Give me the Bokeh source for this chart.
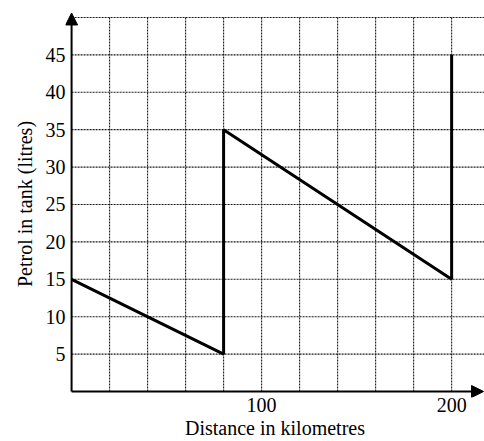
from bokeh.plotting import figure
from bokeh.models import Range1d, FixedTicker, Arrow, NormalHead
from bokeh.embed import file_html
from bokeh.resources import INLINE

# data
distance_km = [0, 80, 80, 200, 200]
petrol_litres = [15, 5, 35, 15, 45]

x_tick_labels = [100, 200]
y_tick_labels = [5, 10, 15, 20, 25, 30, 35, 40, 45]
x_grid_ticks = [20, 40, 60, 80, 100, 120, 140, 160, 180, 200]
y_grid_ticks = [5, 10, 15, 20, 25, 30, 35, 40, 45, 50]

X_MIN, X_MAX = -3.2, 217.3
Y_MIN, Y_MAX = -0.8, 50.93
X_ARROW = 216.8
Y_ARROW = 50.6

p = figure(width=484, height=441, x_range=Range1d(X_MIN, X_MAX), y_range=Range1d(Y_MIN, Y_MAX),
           output_backend="svg", toolbar_location=None,
           min_border_left=65, min_border_right=0, min_border_top=10, min_border_bottom=43)
p.outline_line_color = None
p.background_fill_color = "white"
p.grid.visible = False

FONT = "Liberation Serif"
for ax in (p.xaxis[0], p.yaxis[0]):
    ax.major_tick_in = 0
    ax.major_tick_out = 0
    ax.minor_tick_in = 0
    ax.minor_tick_out = 0
    ax.axis_line_color = None
    ax.major_label_text_font = FONT
    ax.major_label_text_font_size = "20px"
    ax.major_label_text_color = "black"
    ax.axis_label_text_font = FONT
    ax.axis_label_text_font_size = "20px"
    ax.axis_label_text_font_style = "normal"
    ax.axis_label_text_color = "black"
    ax.major_label_standoff = 0

p.xaxis.ticker = FixedTicker(ticks=x_tick_labels)
p.yaxis.ticker = FixedTicker(ticks=y_tick_labels)
p.xaxis.axis_label = "Distance in kilometres"
p.yaxis.axis_label = "Petrol in tank (litres)"
p.xaxis.axis_label_standoff = 2
p.yaxis.axis_label_standoff = 7

# dotted grid, bounded by the axes
GRID = dict(line_color="#1a1a1a", line_dash="2 1", line_width=1.1)
ytop = max(y_grid_ticks)
p.segment(x0=x_grid_ticks, y0=[0] * len(x_grid_ticks),
          x1=x_grid_ticks, y1=[ytop] * len(x_grid_ticks), **GRID)
p.segment(x0=[0] * len(y_grid_ticks), y0=y_grid_ticks,
          x1=[X_MAX] * len(y_grid_ticks), y1=y_grid_ticks, **GRID)

p.line(distance_km, petrol_litres, line_color="black", line_width=3)

# axes with arrows
p.add_layout(Arrow(x_start=0, y_start=0, x_end=0, y_end=Y_ARROW,
                   line_width=2, line_color="black",
                   end=NormalHead(size=12, fill_color="black", line_color="black")))
p.add_layout(Arrow(x_start=0, y_start=0, x_end=X_ARROW, y_end=0,
                   line_width=2, line_color="black",
                   end=NormalHead(size=12, fill_color="black", line_color="black")))

open("out.html", "w").write(file_html(p, INLINE))
